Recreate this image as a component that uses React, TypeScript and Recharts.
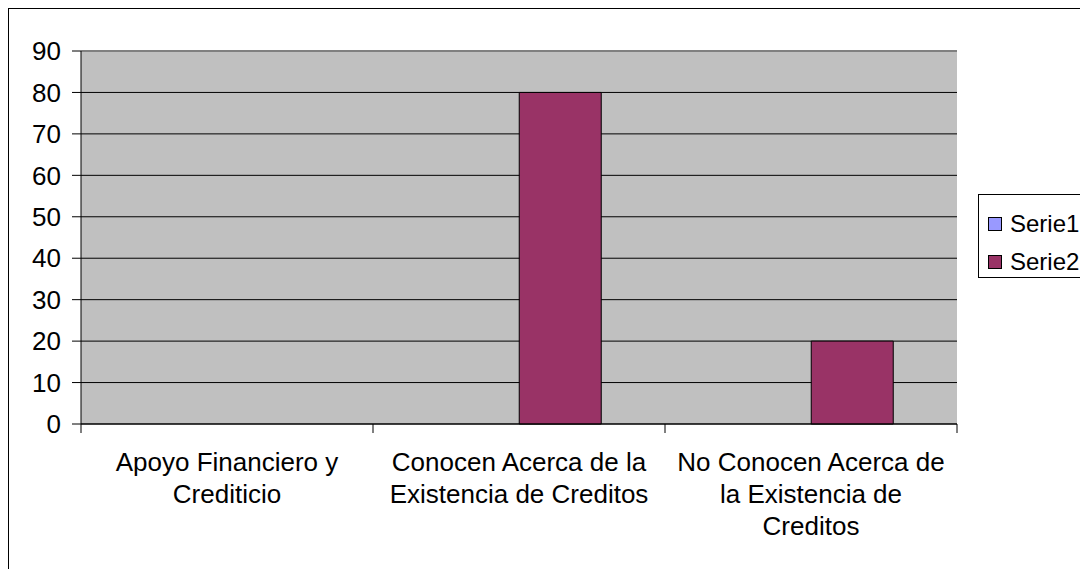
import React from 'react';
import { BarChart, Bar, XAxis, YAxis, CartesianGrid, Legend, ReferenceLine } from 'recharts';

const categories = [
  'Apoyo Financiero y\nCrediticio',
  'Conocen Acerca de la\nExistencia de Creditos',
  'No Conocen Acerca de\nla Existencia de\nCreditos',
];
const serie1: (number | null)[] = [null, null, null];
const serie2: (number | null)[] = [null, 80, 20];
const yTicks = [0, 10, 20, 30, 40, 50, 60, 70, 80, 90];

const data = categories.map((name, i) => ({ name, Serie1: serie1[i], Serie2: serie2[i] }));

const FONT = 'Arial, "Liberation Sans", sans-serif';

const CatTick = (props: any) => {
  const { x, y, payload, index, visibleTicksCount } = props;
  const lines = String(payload.value).split('\n');
  const off = payload.offset || 0;
  const axisY = y - 10;
  return (
    <g>
      <line x1={x - off} x2={x - off} y1={axisY} y2={axisY + 9} stroke="#000" strokeWidth={1} />
      {index === visibleTicksCount - 1 ? (
        <line x1={x + off} x2={x + off} y1={axisY} y2={axisY + 9} stroke="#000" strokeWidth={1} />
      ) : null}
      <text x={x} y={y} textAnchor="middle" fontSize={26} fill="#000" fontFamily={FONT}>
        {lines.map((l, i) => (
          <tspan key={i} x={x} dy={i === 0 ? 37 : 32}>
            {l}
          </tspan>
        ))}
      </text>
    </g>
  );
};

const colors: Record<string, string> = { Serie1: '#9999FF', Serie2: '#993366' };

const LegendBox = (props: any) => {
  const payload = props.payload || [];
  return (
    <div
      style={{
        border: '1px solid #000',
        background: '#fff',
        width: 130,
        height: 72,
        boxSizing: 'content-box',
        fontFamily: FONT,
        fontSize: 24,
        paddingTop: 10,
      }}
    >
      {payload.map((p: any) => (
        <div key={p.value} style={{ display: 'flex', alignItems: 'center', height: 38, marginLeft: 9 }}>
          <div
            style={{
              width: 12,
              height: 12,
              border: '1px solid #000',
              background: colors[p.value] || p.color,
              marginRight: 8,
            }}
          />
          <span style={{ lineHeight: '24px' }}>{p.value}</span>
        </div>
      ))}
    </div>
  );
};

export default function App() {
  return (
    <div
      style={{
        width: 1080,
        height: 561,
        borderLeft: '1px solid #000',
        borderTop: '1px solid #000',
        boxSizing: 'border-box',
        overflow: 'hidden',
        position: 'relative',
      }}
    >
      <BarChart
        width={1079}
        height={560}
        data={data}
        margin={{ top: 42, right: 131, bottom: 25, left: 0 }}
        barCategoryGap="22%"
        barGap={0}
      >
        <CartesianGrid horizontal vertical={false} stroke="#000" fill="#C0C0C0" fillOpacity={1} />
        <XAxis
          dataKey="name"
          interval={0}
          height={120}
          axisLine={{ stroke: '#000' }}
          tickLine={false}
          tickSize={8}
          tick={<CatTick />}
        />
        <YAxis
          domain={[0, 90]}
          ticks={yTicks}
          width={72}
          axisLine={{ stroke: '#000' }}
          tickLine={{ stroke: '#000' }}
          tickSize={9}
          tickMargin={11}
          tick={{ fill: '#000', fontSize: 26, fontFamily: FONT }}
          interval={0}
        />
        <ReferenceLine y={90} stroke="#808080" strokeWidth={2} />
        <Legend
          layout="horizontal"
          align="right"
          verticalAlign="middle"
          content={<LegendBox />}
          wrapperStyle={{ position: 'absolute', left: 969, top: 185, width: 0, height: 0, overflow: 'visible' }}
        />
        <Bar dataKey="Serie1" fill="#9999FF" stroke="#000" strokeWidth={1} isAnimationActive={false} />
        <Bar dataKey="Serie2" fill="#993366" stroke="#000" strokeWidth={1} isAnimationActive={false} />
      </BarChart>
    </div>
  );
}
